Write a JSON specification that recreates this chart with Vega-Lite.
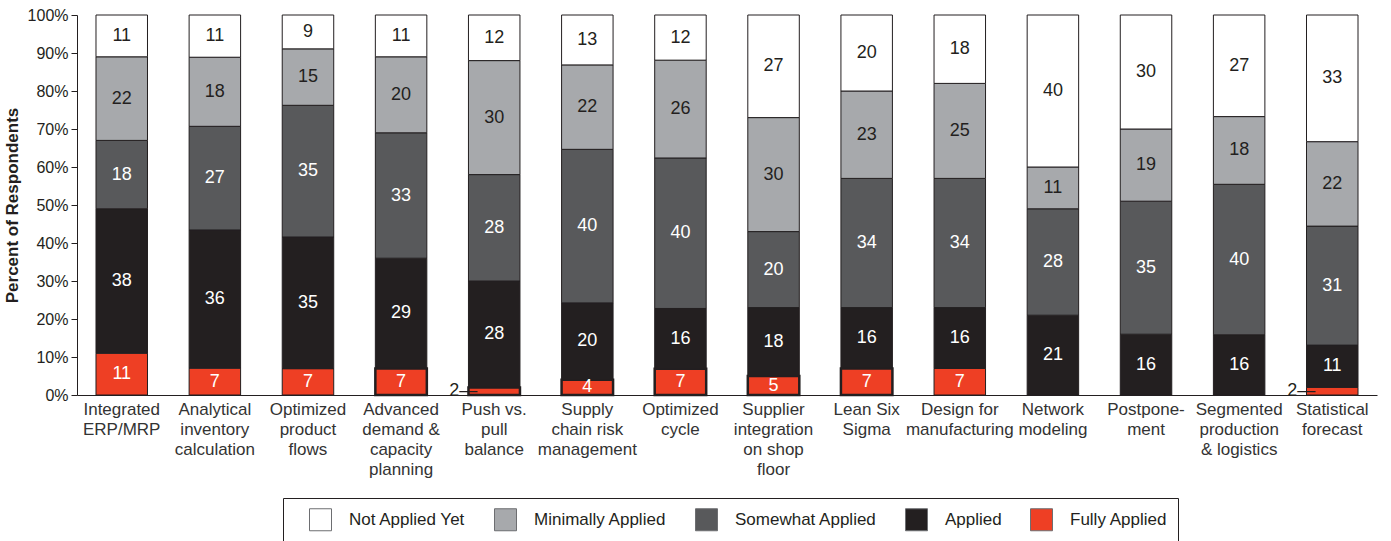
{
  "$schema": "https://vega.github.io/schema/vega-lite/v6.json",
  "width": 1300,
  "height": 380,
  "autosize": {"type": "none"},
  "padding": {"left": 77, "top": 15, "right": 14, "bottom": 146},
  "background": "white",
  "config": {
    "font": "Liberation Sans",
    "view": {"stroke": null},
    "axisY": {
      "values": [0, 0.1, 0.2, 0.3, 0.4, 0.5, 0.6, 0.7, 0.8, 0.9, 1],
      "format": ".0%",
      "grid": false,
      "labelOverlap": false,
      "labelFontSize": 16,
      "labelColor": "#231F20",
      "labelPadding": 3,
      "tickSize": 6,
      "tickColor": "#231F20",
      "domainColor": "#231F20",
      "titleFontSize": 17,
      "titleFontWeight": "bold",
      "titleColor": "#231F20",
      "titlePadding": 6
    }
  },
  "datasets": {
    "levels": [
      {"s": "Fully Applied", "rank": 1},
      {"s": "Applied", "rank": 2},
      {"s": "Somewhat Applied", "rank": 3},
      {"s": "Minimally Applied", "rank": 4},
      {"s": "Not Applied Yet", "rank": 5}
    ]
  },
  "data": {"values": [
    {"c": "Integrated|ERP/MRP", "s": "Fully Applied", "v": 11},
    {"c": "Integrated|ERP/MRP", "s": "Applied", "v": 38},
    {"c": "Integrated|ERP/MRP", "s": "Somewhat Applied", "v": 18},
    {"c": "Integrated|ERP/MRP", "s": "Minimally Applied", "v": 22},
    {"c": "Integrated|ERP/MRP", "s": "Not Applied Yet", "v": 11},
    {"c": "Analytical|inventory|calculation", "s": "Fully Applied", "v": 7},
    {"c": "Analytical|inventory|calculation", "s": "Applied", "v": 36},
    {"c": "Analytical|inventory|calculation", "s": "Somewhat Applied", "v": 27},
    {"c": "Analytical|inventory|calculation", "s": "Minimally Applied", "v": 18},
    {"c": "Analytical|inventory|calculation", "s": "Not Applied Yet", "v": 11},
    {"c": "Optimized|product|flows", "s": "Fully Applied", "v": 7},
    {"c": "Optimized|product|flows", "s": "Applied", "v": 35},
    {"c": "Optimized|product|flows", "s": "Somewhat Applied", "v": 35},
    {"c": "Optimized|product|flows", "s": "Minimally Applied", "v": 15},
    {"c": "Optimized|product|flows", "s": "Not Applied Yet", "v": 9},
    {"c": "Advanced|demand &|capacity|planning", "s": "Fully Applied", "v": 7},
    {"c": "Advanced|demand &|capacity|planning", "s": "Applied", "v": 29},
    {"c": "Advanced|demand &|capacity|planning", "s": "Somewhat Applied", "v": 33},
    {"c": "Advanced|demand &|capacity|planning", "s": "Minimally Applied", "v": 20},
    {"c": "Advanced|demand &|capacity|planning", "s": "Not Applied Yet", "v": 11},
    {"c": "Push vs.|pull|balance", "s": "Fully Applied", "v": 2},
    {"c": "Push vs.|pull|balance", "s": "Applied", "v": 28},
    {"c": "Push vs.|pull|balance", "s": "Somewhat Applied", "v": 28},
    {"c": "Push vs.|pull|balance", "s": "Minimally Applied", "v": 30},
    {"c": "Push vs.|pull|balance", "s": "Not Applied Yet", "v": 12},
    {"c": "Supply|chain risk|management", "s": "Fully Applied", "v": 4},
    {"c": "Supply|chain risk|management", "s": "Applied", "v": 20},
    {"c": "Supply|chain risk|management", "s": "Somewhat Applied", "v": 40},
    {"c": "Supply|chain risk|management", "s": "Minimally Applied", "v": 22},
    {"c": "Supply|chain risk|management", "s": "Not Applied Yet", "v": 13},
    {"c": "Optimized|cycle", "s": "Fully Applied", "v": 7},
    {"c": "Optimized|cycle", "s": "Applied", "v": 16},
    {"c": "Optimized|cycle", "s": "Somewhat Applied", "v": 40},
    {"c": "Optimized|cycle", "s": "Minimally Applied", "v": 26},
    {"c": "Optimized|cycle", "s": "Not Applied Yet", "v": 12},
    {"c": "Supplier|integration|on shop|floor", "s": "Fully Applied", "v": 5},
    {"c": "Supplier|integration|on shop|floor", "s": "Applied", "v": 18},
    {"c": "Supplier|integration|on shop|floor", "s": "Somewhat Applied", "v": 20},
    {"c": "Supplier|integration|on shop|floor", "s": "Minimally Applied", "v": 30},
    {"c": "Supplier|integration|on shop|floor", "s": "Not Applied Yet", "v": 27},
    {"c": "Lean Six|Sigma", "s": "Fully Applied", "v": 7},
    {"c": "Lean Six|Sigma", "s": "Applied", "v": 16},
    {"c": "Lean Six|Sigma", "s": "Somewhat Applied", "v": 34},
    {"c": "Lean Six|Sigma", "s": "Minimally Applied", "v": 23},
    {"c": "Lean Six|Sigma", "s": "Not Applied Yet", "v": 20},
    {"c": "Design for|manufacturing", "s": "Fully Applied", "v": 7},
    {"c": "Design for|manufacturing", "s": "Applied", "v": 16},
    {"c": "Design for|manufacturing", "s": "Somewhat Applied", "v": 34},
    {"c": "Design for|manufacturing", "s": "Minimally Applied", "v": 25},
    {"c": "Design for|manufacturing", "s": "Not Applied Yet", "v": 18},
    {"c": "Network|modeling", "s": "Applied", "v": 21},
    {"c": "Network|modeling", "s": "Somewhat Applied", "v": 28},
    {"c": "Network|modeling", "s": "Minimally Applied", "v": 11},
    {"c": "Network|modeling", "s": "Not Applied Yet", "v": 40},
    {"c": "Postpone-|ment", "s": "Applied", "v": 16},
    {"c": "Postpone-|ment", "s": "Somewhat Applied", "v": 35},
    {"c": "Postpone-|ment", "s": "Minimally Applied", "v": 19},
    {"c": "Postpone-|ment", "s": "Not Applied Yet", "v": 30},
    {"c": "Segmented|production|& logistics", "s": "Applied", "v": 16},
    {"c": "Segmented|production|& logistics", "s": "Somewhat Applied", "v": 40},
    {"c": "Segmented|production|& logistics", "s": "Minimally Applied", "v": 18},
    {"c": "Segmented|production|& logistics", "s": "Not Applied Yet", "v": 27},
    {"c": "Statistical|forecast", "s": "Fully Applied", "v": 2},
    {"c": "Statistical|forecast", "s": "Applied", "v": 11},
    {"c": "Statistical|forecast", "s": "Somewhat Applied", "v": 31},
    {"c": "Statistical|forecast", "s": "Minimally Applied", "v": 22},
    {"c": "Statistical|forecast", "s": "Not Applied Yet", "v": 33}
  ]},
  "transform": [
    {"lookup": "s", "from": {"data": {"name": "levels"}, "key": "s", "fields": ["rank"]}},
    {"stack": "v", "groupby": ["c"], "sort": [{"field": "rank", "order": "ascending"}], "offset": "normalize", "as": ["y0", "y1"]},
    {"calculate": "(datum.y0 + datum.y1) / 2", "as": "ym"},
    {"calculate": "datum.v + '\u2014'", "as": "lbl"}
  ],
  "encoding": {
    "x": {
      "field": "c",
      "type": "nominal",
      "sort": ["Integrated|ERP/MRP", "Analytical|inventory|calculation", "Optimized|product|flows", "Advanced|demand &|capacity|planning", "Push vs.|pull|balance", "Supply|chain risk|management", "Optimized|cycle", "Supplier|integration|on shop|floor", "Lean Six|Sigma", "Design for|manufacturing", "Network|modeling", "Postpone-|ment", "Segmented|production|& logistics", "Statistical|forecast"],
      "scale": {"paddingInner": 0.447, "paddingOuter": 0.204},
      "axis": {
        "title": null,
        "labelAngle": 0,
        "ticks": false,
        "labelExpr": "split(datum.label, '|')",
        "labelFontSize": 17,
        "labelLineHeight": 20,
        "labelBaseline": "top",
        "labelPadding": 6,
        "labelColor": "#333333",
        "labelLimit": 300,
        "domainColor": "#231F20",
        "domainWidth": 1
      }
    }
  },
  "layer": [
    {
      "mark": {"type": "bar", "stroke": "#231F20"},
      "encoding": {
        "y": {
          "field": "y0",
          "type": "quantitative",
          "scale": {"domain": [0, 1]},
          "axis": {"title": "Percent of Respondents"}
        },
        "y2": {"field": "y1"},
        "color": {
          "field": "s",
          "type": "nominal",
          "scale": {
            "domain": ["Not Applied Yet", "Minimally Applied", "Somewhat Applied", "Applied", "Fully Applied"],
            "range": ["#FFFFFF", "#A7A9AC", "#58595B", "#231F20", "#EE3F24"]
          },
          "legend": {
            "title": null,
            "orient": "none",
            "legendX": 206,
            "legendY": 483,
            "direction": "horizontal",
            "strokeColor": "#231F20",
            "fillColor": "white",
            "padding": 10,
            "symbolType": "square",
            "symbolSize": 484,
            "symbolStrokeColor": "#6D6E71",
            "symbolStrokeWidth": 1,
            "symbolOpacity": 1,
            "symbolOffset": 16,
            "labelOffset": 17,
            "columnPadding": 12,
            "labelFontSize": 17,
            "labelColor": "#231F20",
            "labelFont": "Liberation Sans"
          }
        },
        "strokeWidth": {
          "condition": {
            "test": "datum.s === 'Fully Applied' && indexof(['Advanced|demand &|capacity|planning', 'Push vs.|pull|balance', 'Supply|chain risk|management', 'Optimized|cycle', 'Supplier|integration|on shop|floor', 'Lean Six|Sigma'], datum.c) >= 0",
            "value": 2.5
          },
          "value": 1
        }
      }
    },
    {
      "transform": [{"filter": "datum.v > 2"}],
      "mark": {"type": "text", "fontSize": 18, "baseline": "middle"},
      "encoding": {
        "y": {"field": "ym", "type": "quantitative"},
        "text": {"field": "v", "type": "quantitative"},
        "color": {
          "condition": {"test": "datum.s === 'Fully Applied' || datum.s === 'Applied' || datum.s === 'Somewhat Applied'", "value": "#FFFFFF"},
          "value": "#231F20"
        }
      }
    },
    {
      "transform": [{"filter": "datum.v <= 2"}],
      "mark": {"type": "text", "fontSize": 18, "baseline": "middle", "align": "right", "dx": -17, "color": "#231F20"},
      "encoding": {
        "y": {"field": "ym", "type": "quantitative"},
        "text": {"field": "lbl", "type": "nominal"}
      }
    }
  ]
}
